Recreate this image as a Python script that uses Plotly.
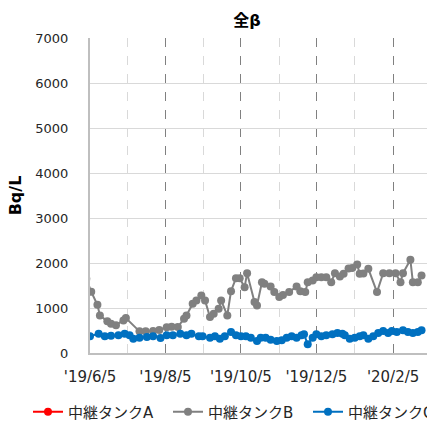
import plotly.graph_objects as go

# ---- data ----
tank_a_dates = ["2019-06-05"]
tank_a_vals = [None]

tank_b_dates = [
    "2019-06-02", "2019-06-06", "2019-06-11", "2019-06-13", "2019-06-19", "2019-06-22",
    "2019-06-26", "2019-07-02", "2019-07-04", "2019-07-15", "2019-07-20", "2019-07-26",
    "2019-07-31", "2019-08-06", "2019-08-10", "2019-08-15", "2019-08-20", "2019-08-22",
    "2019-08-27", "2019-08-30", "2019-09-03", "2019-09-06", "2019-09-10", "2019-09-13",
    "2019-09-17", "2019-09-19", "2019-09-24", "2019-09-27", "2019-10-01", "2019-10-04",
    "2019-10-08", "2019-10-10", "2019-10-16", "2019-10-18", "2019-10-22", "2019-10-24",
    "2019-10-29", "2019-11-01", "2019-11-05", "2019-11-08", "2019-11-13", "2019-11-19",
    "2019-11-22", "2019-11-26", "2019-11-28", "2019-12-02", "2019-12-05", "2019-12-09",
    "2019-12-13", "2019-12-17", "2019-12-20", "2019-12-24", "2019-12-27", "2019-12-31",
    "2020-01-03", "2020-01-07", "2020-01-09", "2020-01-12", "2020-01-16", "2020-01-23",
    "2020-01-28", "2020-02-02", "2020-02-07", "2020-02-11", "2020-02-13", "2020-02-19",
    "2020-02-21", "2020-02-25", "2020-02-28",
]
tank_b_vals = [
    1650, 1360, 1073, 836, 703, 650,
    614, 725, 776, 481, 481, 490,
    510, 570, 585, 577, 762, 836,
    1095, 1169, 1280, 1169, 798, 873,
    984, 1169, 836, 1375, 1663, 1663,
    1463, 1774, 1131, 1058, 1574, 1538,
    1478, 1353, 1242, 1290, 1353, 1478,
    1375, 1353, 1574, 1612, 1685, 1685,
    1685, 1574, 1774, 1700, 1760, 1880,
    1890, 1967, 1760, 1767, 1871, 1353,
    1774, 1774, 1774, 1574, 1774, 2071,
    1574, 1574, 1722,
]

tank_c_dates = [
    "2019-06-05", "2019-06-12", "2019-06-17", "2019-06-22", "2019-06-28", "2019-07-03",
    "2019-07-07", "2019-07-10", "2019-07-15", "2019-07-21", "2019-07-26", "2019-08-01",
    "2019-08-06", "2019-08-11", "2019-08-17", "2019-08-22", "2019-08-26", "2019-09-01",
    "2019-09-04", "2019-09-10", "2019-09-14", "2019-09-18", "2019-09-22", "2019-09-27",
    "2019-10-01", "2019-10-05", "2019-10-09", "2019-10-13", "2019-10-18", "2019-10-21",
    "2019-10-25", "2019-10-29", "2019-11-03", "2019-11-07", "2019-11-11", "2019-11-15",
    "2019-11-19", "2019-11-23", "2019-11-25", "2019-11-28", "2019-12-02", "2019-12-05",
    "2019-12-09", "2019-12-13", "2019-12-18", "2019-12-22", "2019-12-26", "2019-12-28",
    "2020-01-01", "2020-01-05", "2020-01-09", "2020-01-12", "2020-01-16", "2020-01-20",
    "2020-01-24", "2020-01-28", "2020-02-01", "2020-02-04", "2020-02-08", "2020-02-13",
    "2020-02-17", "2020-02-21", "2020-02-25", "2020-02-28",
]
tank_c_vals = [
    370, 430, 370, 385, 392, 430,
    392, 319, 340, 355, 370, 333,
    392, 392, 430, 392, 430, 370,
    370, 340, 370, 319, 370, 466,
    392, 370, 370, 340, 266, 340,
    340, 296, 266, 281, 340, 370,
    340, 392, 414, 193, 340, 414,
    370, 392, 414, 444, 430, 392,
    319, 340, 370, 392, 319, 370,
    444, 488, 444, 488, 466, 503,
    466, 444, 466, 503,
]

x_tick_vals = ["2019-06-05", "2019-08-05", "2019-10-05", "2019-12-05", "2020-02-05"]
x_tick_text = ["'19/6/5", "'19/8/5", "'19/10/5", "'19/12/5", "'20/2/5"]
x_minor_vals = ["2019-07-05", "2019-09-05", "2019-11-05", "2020-01-05", "2020-03-05"]
y_tick_vals = [0, 1000, 2000, 3000, 4000, 5000, 6000, 7000]

FONT = "DejaVu Sans, Noto Sans CJK JP, sans-serif"

fig = go.Figure()
series = [
    ("中継タンクA", tank_a_dates, tank_a_vals, "#FF0000"),
    ("中継タンクB", tank_b_dates, tank_b_vals, "#808080"),
    ("中継タンクC", tank_c_dates, tank_c_vals, "#0070C0"),
]
for name, xs, ys, col in series:
    fig.add_trace(go.Scatter(
        x=xs, y=ys, name=name, mode="lines+markers",
        line=dict(color=col, width=2),
        marker=dict(color=col, size=8, symbol="circle"),
    ))

PLOT_W = 384.0
PLOT_H = 315.0

fig.update_layout(
    width=494, height=421,
    margin=dict(l=90, r=20, t=38, b=68, autoexpand=False),
    paper_bgcolor="white", plot_bgcolor="white",
    font=dict(family=FONT, size=13, color="#262626"),
    title=dict(text="<b>全β</b>", x=0.5, xanchor="center", y=1 - 20 / 421, yanchor="middle",
               font=dict(family=FONT, size=16, color="#000000")),
    showlegend=True,
    legend=dict(orientation="h", x=(28 - 90) / PLOT_W, xanchor="left",
                y=(353 - 412) / PLOT_H, yanchor="middle",
                font=dict(family=FONT, size=15, color="#262626"),
                entrywidth=95, entrywidthmode="pixels", itemwidth=30,
                traceorder="normal"),
)
fig.update_xaxes(
    type="date",
    range=["2019-06-05", "2020-04-10 10:00"],
    tickmode="array", tickvals=x_tick_vals, ticktext=x_tick_text,
    showgrid=True, gridcolor="#808080", griddash="dash", gridwidth=1,
    minor=dict(tickmode="array", tickvals=x_minor_vals, showgrid=True, gridcolor="#d9d9d9", gridwidth=1),
    showline=True, linecolor="#bfbfbf", linewidth=2,
    ticks="", ticklabelstandoff=9, automargin=False,
    tickfont=dict(family=FONT, size=15, color="#262626"),
    zeroline=False,
)
fig.update_yaxes(
    range=[0, 7000], tickmode="array", tickvals=y_tick_vals,
    showgrid=True, gridcolor="#d9d9d9", gridwidth=1,
    showline=True, linecolor="#bfbfbf", linewidth=2,
    ticks="outside", ticklen=17, tickcolor="rgba(0,0,0,0)", automargin=False,
    tickfont=dict(family=FONT, size=13, color="#262626"),
    zeroline=False,
    title=dict(text="<b>Bq/L</b>", font=dict(family=FONT, size=16, color="#000000"), standoff=10),
)

fig.write_html(
    "out.html",
    config={"displayModeBar": False},
    post_script="document.body.style.margin='0';document.body.style.overflow='hidden';",
)
